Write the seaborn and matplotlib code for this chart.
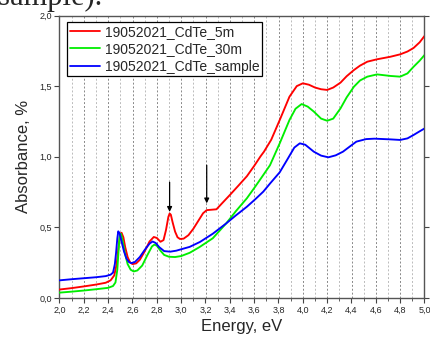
import numpy as np
import pandas as pd
import matplotlib
matplotlib.use("Agg")
import matplotlib.pyplot as plt
from matplotlib.ticker import MultipleLocator, FuncFormatter
import seaborn as sns

# Doc tu hinh: nang luong (eV) va do hap thu (%)
red_e = [2.00, 2.10, 2.20, 2.30, 2.38, 2.42, 2.45, 2.47, 2.485, 2.50, 2.51, 2.525, 2.54, 2.56,
         2.58, 2.60, 2.63, 2.66, 2.70, 2.74, 2.775, 2.80, 2.83, 2.855, 2.875, 2.895, 2.905,
         2.915, 2.93, 2.95, 2.97, 2.99, 3.02, 3.06, 3.10, 3.14, 3.18, 3.21, 3.25, 3.29, 3.33,
         3.40, 3.47, 3.54, 3.60, 3.65, 3.66, 3.68, 3.74, 3.81, 3.89, 3.95, 4.00, 4.05, 4.10,
         4.15, 4.20, 4.25, 4.31, 4.36, 4.42, 4.47, 4.53, 4.61, 4.72, 4.80, 4.86, 4.91, 4.96, 5.00]
red_a = [0.060, 0.070, 0.082, 0.095, 0.108, 0.125, 0.16, 0.24, 0.36, 0.455, 0.462, 0.43, 0.36, 0.29,
         0.252, 0.240, 0.245, 0.27, 0.33, 0.40, 0.432, 0.425, 0.398, 0.41, 0.48, 0.575, 0.598,
         0.59, 0.535, 0.47, 0.43, 0.418, 0.42, 0.445, 0.49, 0.545, 0.60, 0.622, 0.625, 0.628, 0.665,
         0.729, 0.795, 0.862, 0.935, 1.000, 1.012, 1.035, 1.12, 1.26, 1.425, 1.50, 1.52, 1.51, 1.49,
         1.478, 1.473, 1.49, 1.525, 1.57, 1.614, 1.645, 1.673, 1.690, 1.708, 1.725, 1.745, 1.770, 1.81, 1.855]

green_e = [2.00, 2.10, 2.20, 2.30, 2.40, 2.44, 2.46, 2.475, 2.485, 2.495, 2.505, 2.52, 2.54, 2.56,
           2.585, 2.61, 2.64, 2.68, 2.72, 2.76, 2.78, 2.80, 2.83, 2.86, 2.90, 2.95, 3.00, 3.07,
           3.15, 3.26, 3.37, 3.45, 3.54, 3.61, 3.675, 3.73, 3.81, 3.89, 3.94, 3.99, 4.04, 4.09,
           4.15, 4.20, 4.25, 4.31, 4.36, 4.42, 4.47, 4.53, 4.61, 4.72, 4.80, 4.86, 4.91, 4.96, 5.00]
green_a = [0.038, 0.045, 0.053, 0.062, 0.072, 0.085, 0.11, 0.20, 0.33, 0.445, 0.455, 0.40, 0.31, 0.24,
           0.20, 0.188, 0.195, 0.23, 0.30, 0.365, 0.378, 0.37, 0.335, 0.305, 0.292, 0.29, 0.297, 0.32,
           0.36, 0.423, 0.528, 0.615, 0.706, 0.79, 0.871, 0.94, 1.095, 1.26, 1.34, 1.373, 1.355, 1.32,
           1.27, 1.255, 1.27, 1.343, 1.42, 1.496, 1.54, 1.567, 1.583, 1.572, 1.567, 1.59, 1.637, 1.68, 1.72]

blue_e = [2.00, 2.10, 2.20, 2.30, 2.38, 2.42, 2.44, 2.455, 2.465, 2.475, 2.483, 2.495, 2.51, 2.53,
          2.55, 2.57, 2.59, 2.62, 2.66, 2.70, 2.74, 2.765, 2.79, 2.82, 2.86, 2.91, 2.96, 3.00,
          3.07, 3.155, 3.26, 3.37, 3.45, 3.54, 3.61, 3.675, 3.73, 3.81, 3.87, 3.93, 3.975, 4.02,
          4.09, 4.15, 4.21, 4.27, 4.33, 4.39, 4.44, 4.52, 4.59, 4.72, 4.80, 4.86, 4.91, 4.96, 5.00]
blue_a = [0.125, 0.133, 0.140, 0.147, 0.155, 0.165, 0.18, 0.24, 0.32, 0.42, 0.472, 0.455, 0.40, 0.33,
          0.28, 0.255, 0.247, 0.255, 0.29, 0.34, 0.385, 0.40, 0.39, 0.36, 0.332, 0.328, 0.335, 0.345,
          0.362, 0.397, 0.455, 0.528, 0.585, 0.646, 0.70, 0.753, 0.81, 0.89, 0.977, 1.065, 1.095, 1.085,
          1.036, 1.008, 0.996, 1.01, 1.036, 1.075, 1.107, 1.125, 1.128, 1.123, 1.119, 1.13, 1.154, 1.18, 1.20]

labels = ["19052021_CdTe_5m", "19052021_CdTe_30m", "19052021_CdTe_sample"]
colors = ["#ff0000", "#00ee00", "#0000ff"]

# mui ten chi dinh
arrow_e = [2.905, 3.21]
arrow_top = [0.82, 0.94]
arrow_tip = [0.61, 0.67]


def comma(v, pos):
    return f"{v:.1f}".replace(".", ",")


sns.set_style("ticks")
plt.rcParams['font.family'] = ['Liberation Sans', 'DejaVu Sans']

df = pd.concat([
    pd.DataFrame({"E": red_e, "A": red_a, "s": labels[0]}),
    pd.DataFrame({"E": green_e, "A": green_a, "s": labels[1]}),
    pd.DataFrame({"E": blue_e, "A": blue_a, "s": labels[2]}),
])

fig = plt.figure(figsize=(4.31, 3.43), dpi=100)
ax = fig.add_axes([59.5 / 431, 1 - 298 / 343, 365 / 431, 282.5 / 343])

# luoi doc
for xv in np.arange(2.1, 4.95, 0.1):
    major = abs(round(xv * 10) % 2) == 0
    ax.axvline(xv, color="#888888" if major else "#bbbbbb", lw=0.7,
               ls=(0, (2, 2)), zorder=0)

sns.lineplot(data=df, x="E", y="A", hue="s", palette=colors, lw=1.35,
             sort=False, ax=ax, zorder=3)

for xe, yt, yb in zip(arrow_e, arrow_top, arrow_tip):
    ax.annotate("", xy=(xe, yb), xytext=(xe, yt),
                arrowprops=dict(arrowstyle="-|>", color="black", lw=0.9,
                                mutation_scale=7, shrinkA=0, shrinkB=0))

ax.set_xlim(2.0, 5.0)
ax.set_ylim(0.0, 2.0)
ax.xaxis.set_major_locator(MultipleLocator(0.2))
ax.xaxis.set_minor_locator(MultipleLocator(0.1))
ax.yaxis.set_major_locator(MultipleLocator(0.5))
ax.xaxis.set_major_formatter(FuncFormatter(comma))
ax.yaxis.set_major_formatter(FuncFormatter(comma))
ax.tick_params(axis="both", which="major", labelsize=6.5, length=3.5, width=0.8,
               color="#444444", pad=2)
ax.tick_params(axis="x", which="minor", length=2, width=0.6, color="#444444")
ax.tick_params(axis="y", which="major", right=True, direction="out")
for side in ["top", "right", "left", "bottom"]:
    ax.spines[side].set_visible(True)
    ax.spines[side].set_color("#555555")
    ax.spines[side].set_linewidth(1.0)

ax.set_xlabel("Energy, eV", fontsize=12, labelpad=3)
ax.set_ylabel("Absorbance, %", fontsize=12, labelpad=6)

leg = ax.legend(loc="upper left", bbox_to_anchor=(0.0205, 0.977), borderaxespad=0,
                fontsize=10, frameon=True, fancybox=False, edgecolor="black",
                framealpha=1, handlelength=2.15, borderpad=0.2, labelspacing=0.25,
                handletextpad=0.36)
leg.get_frame().set_linewidth(0.9)
for line in leg.get_lines():
    line.set_linewidth(1.3)

# doan chu cat tu van ban goc
fig.text(103 / 431, 1 - 5.5 / 343, "(sample).", fontsize=22, ha="right", va="baseline",
         family=["Liberation Serif", "DejaVu Serif"])

fig.savefig("out.png", dpi=100)
